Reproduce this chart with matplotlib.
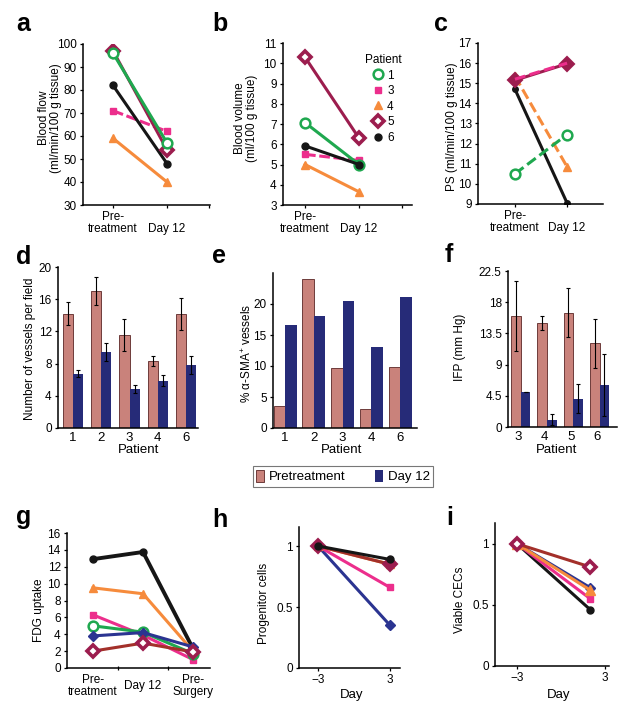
import numpy as np
import matplotlib
matplotlib.use('Agg')
import matplotlib.pyplot as plt
from matplotlib.lines import Line2D
from matplotlib.patches import Patch

plt.rcParams['font.family'] = ['Liberation Sans', 'DejaVu Sans']
plt.rcParams['mathtext.fontset'] = 'custom'
plt.rcParams['mathtext.rm'] = 'Liberation Sans'
plt.rcParams['font.size'] = 8.5

W, H = 627, 712

# ---- data ----
# panels a-c: pre-treatment -> day 12
patients_abc = ['1', '3', '4', '5', '6']
blood_flow = [[96, 57], [71, 62], [59, 40], [97, 54], [82, 48]]
blood_volume = [[7.07, 5.0], [5.5, 5.2], [5.0, 3.65], [10.3, 6.3], [5.92, 5.0]]
ps_values = [[10.5, 12.45], [15.2, 16.0], [15.35, 10.85], [15.15, 15.97], [14.7, 9.05]]
timepoints = ['Pre-\ntreatment', '\nDay 12']

# panels d-f: bar charts
patients_de = ['1', '2', '3', '4', '6']
vessels_pre = [14.2, 17.0, 11.6, 8.3, 14.2]
vessels_pre_err = [1.45, 1.7, 2.0, 0.6, 2.0]
vessels_d12 = [6.75, 9.4, 4.9, 5.9, 7.8]
vessels_d12_err = [0.4, 1.1, 0.5, 0.65, 1.1]
sma_pre = [3.5, 24.0, 9.6, 3.0, 9.8]
sma_d12 = [16.6, 18.0, 20.5, 13.0, 21.2]
patients_f = ['3', '4', '5', '6']
ifp_pre = [16.0, 15.0, 16.5, 12.05]
ifp_pre_err = [5.0, 1.0, 3.5, 3.5]
ifp_d12 = [5.05, 1.07, 4.1, 6.1]
ifp_d12_err = [0, 0.85, 2.1, 4.5]

# panel g: FDG uptake
fdg_times = ['Pre-\ntreatment', 'Day 12', 'Pre-\nSurgery']
fdg_patients = ['6', '4', '3', '1', '2', '5']
fdg = [[12.9, 13.75, 2.3], [9.5, 8.8, 2.0], [6.3, 3.9, 1.0],
       [5.0, 4.25, 1.7], [3.8, 4.2, 2.5], [2.0, 2.95, 1.9]]

# panels h, i
day_h = [-3, 3]
day_i = [-3, 2]
progenitor_patients = ['2', '3', '4', '5', '6']
progenitor = [[1, 0.35], [1, 0.66], [1, 0.85], [1, 0.85], [1, 0.89]]
cec_patients = ['6', '3', '2', '4', '5']
cec = [[1, 0.46], [1, 0.55], [1, 0.64], [1, 0.62], [1, 0.81]]

# ---- styles ----
GREEN = '#1fa84f'
MAGENTA = '#ec2e8c'
ORANGE = '#f68b3c'
MAROON = '#9c1d4e'
BLACK = '#161616'
BLUE = '#2b3491'
BROWN = '#a3302a'
PRE_C = '#c9827b'
PRE_EDGE = '#5b2626'
DAY_C = '#262b78'

style = {
    '1': dict(color=GREEN, marker='o', mfc='white', mec=GREEN, ms=7, mew=1.8),
    '2': dict(color=BLUE, marker='D', mfc=BLUE, mec=BLUE, ms=5, mew=1),
    '3': dict(color=MAGENTA, marker='s', mfc=MAGENTA, mec=MAGENTA, ms=5, mew=1),
    '4': dict(color=ORANGE, marker='^', mfc=ORANGE, mec=ORANGE, ms=6, mew=1),
    '5': dict(color=MAROON, marker='D', mfc='white', mec=MAROON, ms=6.5, mew=2.6),
    '6': dict(color=BLACK, marker='o', mfc=BLACK, mec=BLACK, ms=5, mew=1),
}

fig = plt.figure(figsize=(W / 100, H / 100), dpi=100)


def px_axes(l, t, r, b):
    ax = fig.add_axes([l / W, 1 - b / H, (r - l) / W, (b - t) / H])
    for s in ['top', 'right']:
        ax.spines[s].set_visible(False)
    for s in ['left', 'bottom']:
        ax.spines[s].set_linewidth(1.1)
    ax.tick_params(labelsize=8.5, length=2.5, width=0.9, pad=2)
    return ax


def label_y(ax, text, xpx, ypx, l, t, r, b):
    ax.set_ylabel(text, fontsize=8.5, linespacing=1.0)
    ax.yaxis.set_label_coords((xpx - l) / (r - l), (b - ypx) / (b - t))


def label_x(ax, text, xpx, ypx, l, t, r, b):
    ax.set_xlabel(text, fontsize=9.5)
    ax.xaxis.set_label_coords((xpx - l) / (r - l), (b - ypx) / (b - t))


def draw_line(ax, x, y, pid, lw=2.2, ls='-', line_color=None, **over):
    st = dict(style[pid])
    st.update(over)
    if line_color is not None:
        st['color'] = line_color
    ax.plot(x, y, lw=lw, ls=ls, **st)


# ---- a ----
box = (83, 44, 210, 205)
ax = px_axes(*box)
x2 = [0, 1]
for pid in ['3', '4', '6', '5', '1']:
    y = blood_flow[patients_abc.index(pid)]
    draw_line(ax, x2, y, pid, ls=(0, (3.5, 1.2)) if pid == '3' else '-')
ax.set_xlim(-0.556, 1.796)
ax.set_ylim(30, 100)
ax.set_yticks(np.arange(30, 101, 10))
ax.set_xticks([0, 1, 1.78])
ax.set_xticklabels(timepoints + [''], fontsize=8.5, linespacing=0.95)
label_y(ax, 'Blood flow\n(ml/min/100 g tissue)', 62, 118, *box)

# ---- b ----
box = (283, 43, 412, 205)
ax = px_axes(*box)
for pid in ['4', '3', '1', '6', '5']:
    y = blood_volume[patients_abc.index(pid)]
    draw_line(ax, x2, y, pid, ls=(0, (3.5, 1.2)) if pid == '3' else '-')
ax.set_xlim(-0.407, 1.98)
ax.set_ylim(3, 11)
ax.set_yticks(np.arange(3, 12, 1))
ax.set_xticks([0, 1, 1.8])
ax.set_xticklabels(timepoints + [''], fontsize=8.5, linespacing=0.95)
label_y(ax, 'Blood volume\n(ml/100 g tissue)', 258, 118, *box)
handles = [Line2D([], [], ls='none', **style[p]) for p in patients_abc]
leg = ax.legend(handles, patients_abc, title='Patient', loc='upper left',
                bbox_to_anchor=(365 / W, 1 - 54 / H), bbox_transform=fig.transFigure,
                frameon=False, fontsize=8.5, title_fontsize=8.5, handlelength=0.9,
                handletextpad=0.3, labelspacing=0.3, borderpad=0, borderaxespad=0)

# ---- c ----
box = (478, 43, 603, 204)
ax = px_axes(*box)
dash = (0, (3.5, 1.5))
y = ps_values[patients_abc.index('6')]
draw_line(ax, x2, y, '6', ms=4)
y = ps_values[patients_abc.index('4')]
draw_line(ax, x2, y, '4', ls=dash)
y = ps_values[patients_abc.index('1')]
draw_line(ax, x2, y, '1', ls=dash)
y = ps_values[patients_abc.index('5')]
draw_line(ax, x2, y, '5', mfc=MAROON, ms=7.5, mew=1.5)
y = ps_values[patients_abc.index('3')]
draw_line(ax, x2, y, '3', ls=dash, marker='None')
ax.set_xlim(-0.71, 1.69)
ax.set_ylim(9, 17)
ax.set_yticks(np.arange(9, 18, 1))
ax.set_xticks([0, 1])
ax.set_xticklabels(timepoints, fontsize=8.5, linespacing=0.95)
label_y(ax, 'PS (ml/min/100 g tissue)', 458, 127, *box)

err_kw = dict(ecolor='black', elinewidth=0.8, capsize=1.3, capthick=0.8)

# ---- d ----
box = (58, 267, 198, 428)
ax = px_axes(*box)
xd = np.arange(len(patients_de))
w = 0.36
ax.bar(xd - w / 2, vessels_pre, w, yerr=vessels_pre_err, color=PRE_C,
       edgecolor=PRE_EDGE, linewidth=0.6, error_kw=err_kw)
ax.bar(xd + w / 2, vessels_d12, w, yerr=vessels_d12_err, color=DAY_C,
       edgecolor='none', error_kw=err_kw)
ax.set_xlim(-0.53, 4.42)
ax.set_ylim(0, 20)
ax.set_yticks(np.arange(0, 21, 4))
ax.set_xticks(xd)
ax.set_xticklabels(patients_de, fontsize=9.5)
ax.tick_params(axis='x', length=0, pad=3)
label_y(ax, 'Number of vessels per field', 36, 349, *box)
label_x(ax, 'Patient', 139, 444, *box)

# ---- e ----
box = (273, 273, 417, 428)
ax = px_axes(*box)
w = 0.4
ax.bar(xd - w / 2, sma_pre, w, color=PRE_C, edgecolor=PRE_EDGE, linewidth=0.6)
ax.bar(xd + w / 2, sma_d12, w, color=DAY_C, edgecolor='none')
ax.set_xlim(-0.42, 4.59)
ax.set_ylim(0, 25)
ax.set_yticks(np.arange(0, 21, 5))
ax.set_xticks(xd)
ax.set_xticklabels(patients_de, fontsize=9.5)
ax.tick_params(axis='x', length=0, pad=3)
label_y(ax, '% α-SMA$^{+}$ vessels', 254, 353, *box)
label_x(ax, 'Patient', 342, 444, *box)

# ---- f ----
box = (508, 271, 617, 427)
ax = px_axes(*box)
xf = np.arange(len(patients_f))
w = 0.37
ax.bar(xf - w / 2 + 0.1, ifp_pre, w, yerr=ifp_pre_err, color=PRE_C,
       edgecolor=PRE_EDGE, linewidth=0.6, error_kw=err_kw)
ax.bar(xf + w / 2 + 0.1, ifp_d12, w, yerr=ifp_d12_err, color=DAY_C,
       edgecolor='none', error_kw=err_kw)
ax.set_xlim(-0.38, 3.76)
ax.set_ylim(0, 22.5)
ax.set_yticks([0, 4.5, 9, 13.5, 18, 22.5])
ax.set_yticklabels(['0', '4.5', '9', '13.5', '18', '22.5'])
ax.set_xticks(xf)
ax.set_xticklabels(patients_f, fontsize=9.5)
ax.tick_params(axis='x', length=0, pad=3)
label_y(ax, 'IFP (mm Hg)', 466, 347, *box)
label_x(ax, 'Patient', 557, 444, *box)

# ---- legend for d-f ----
leg_handles = [Patch(facecolor=PRE_C, edgecolor=PRE_EDGE, linewidth=0.6),
               Patch(facecolor=DAY_C, edgecolor='none')]
fl = fig.legend(leg_handles, ['Pretreatment', 'Day 12'], ncol=2, loc='center',
                bbox_to_anchor=(343 / W, 1 - 476.5 / H), frameon=True, fancybox=False,
                edgecolor='#555555', fontsize=9.5, handlelength=0.6, handleheight=1.1,
                columnspacing=2.2, borderpad=0.25, handletextpad=0.4)
fl.get_frame().set_linewidth(0.8)

# ---- g ----
box = (67, 533, 210, 668)
ax = px_axes(*box)
x3 = [0, 1, 2]
for pid, y in zip(fdg_patients, fdg):
    if pid == '5':
        draw_line(ax, x3, y, pid, line_color=BROWN, mec=MAROON)
    elif pid == '6':
        draw_line(ax, x3, y, pid, lw=2.8)
    else:
        draw_line(ax, x3, y, pid)
ax.set_xlim(-0.52, 2.34)
ax.set_ylim(0, 16)
ax.set_yticks(np.arange(0, 17, 2))
ax.set_xticks(x3)
ax.set_xticklabels(fdg_times, fontsize=8.5, linespacing=0.95)
for lbl in ax.get_xticklabels():
    lbl.set_va('center')
ax.tick_params(axis='x', which='major', length=0, pad=13)
ax.set_xticks([0.5, 1.5], minor=True)
ax.tick_params(axis='x', which='minor', length=3, width=0.9, direction='inout')
label_y(ax, 'FDG uptake', 45, 610, *box)

# ---- h ----
box = (299, 527, 400, 668)
ax = px_axes(*box)
for pid in ['2', '3', '4', '5', '6']:
    y = progenitor[progenitor_patients.index(pid)]
    if pid == '5':
        draw_line(ax, day_h, y, pid, line_color=BROWN, mec=MAROON, mfc=MAROON, ms=7.5, mew=1.5)
    else:
        draw_line(ax, day_h, y, pid)
ax.set_xlim(-4.58, 3.83)
ax.set_ylim(0, 1.156)
ax.set_yticks([0, 0.5, 1])
ax.set_yticklabels(['0', '0.5', '1'])
ax.set_xticks(day_h)
label_y(ax, 'Progenitor cells', 270, 603, *box)
label_x(ax, 'Day', 352, 689, *box)

# ---- i ----
box = (495, 523, 609, 666)
ax = px_axes(*box)
for pid in ['6', '3', '2', '4', '5']:
    y = cec[cec_patients.index(pid)]
    if pid == '5':
        draw_line(ax, day_i, y, pid, line_color=BROWN, mec=MAROON)
    elif pid == '4':
        draw_line(ax, day_i, y, pid, ms=7)
    else:
        draw_line(ax, day_i, y, pid)
ax.set_xlim(-4.5, 3.27)
ax.set_ylim(0, 1.17)
ax.set_yticks([0, 0.5, 1])
ax.set_yticklabels(['0', '0.5', '1'])
ax.set_xticks([-3, 3])
label_y(ax, 'Viable CECs', 466, 600, *box)
label_x(ax, 'Day', 559, 689, *box)

# ---- panel letters ----
letters = [('a', 16, 31), ('b', 212, 31), ('c', 434, 31),
           ('d', 16, 264), ('e', 212, 263), ('f', 445, 262),
           ('g', 16, 524), ('h', 212, 527), ('i', 446, 525)]
for t, xp, yp in letters:
    fig.text(xp / W, 1 - yp / H, t, fontsize=18, fontweight='bold', va='baseline', ha='left')

fig.savefig('out.png', dpi=100)
